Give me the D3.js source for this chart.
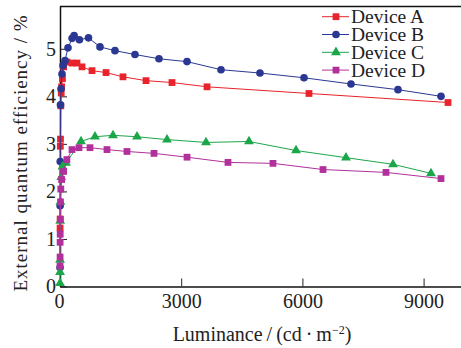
<!DOCTYPE html>
<html>
<head>
<meta charset="utf-8">
<script src="https://cdn.jsdelivr.net/npm/d3@7"></script>
<style>
  body { margin: 0; background: #fff; }
  svg { display: block; }
</style>
</head>
<body>
<svg id="chart"></svg>
<script>
// luminance (cd/m2) vs EQE (%)
const deviceA = [[2, 1.23], [4, 1.42], [8, 2.95], [12, 3.1], [20, 3.8], [30, 4.07], [40, 4.2], [60, 4.37],
  [90, 4.62], [173, 4.72], [297, 4.7], [421, 4.7], [545, 4.62], [792, 4.54], [1139, 4.5], [1559, 4.41],
  [2129, 4.33], [2772, 4.29], [3639, 4.2], [6163, 4.06], [9604, 3.87]];
const deviceB = [[1, 0.4], [3, 1.7], [6, 2.63], [12, 3.82], [25, 4.16], [50, 4.47], [75, 4.65], [124, 4.75],
  [198, 5.02], [300, 5.22], [350, 5.28], [480, 5.19], [705, 5.23], [990, 5.04], [1361, 4.96], [1856, 4.88],
  [2450, 4.79], [3144, 4.73], [3985, 4.56], [4950, 4.49], [6040, 4.39], [7203, 4.26], [8366, 4.14], [9431, 4.0]];
const deviceC = [[0.5, 0.07], [1, 0.3], [2, 0.56], [5, 1.38], [10, 1.78], [30, 2.3], [60, 2.52], [149, 2.6],
  [520, 3.05], [866, 3.15], [1312, 3.18], [1906, 3.15], [2649, 3.09], [3614, 3.03], [4678, 3.05],
  [5842, 2.86], [7079, 2.71], [8243, 2.57], [9183, 2.38]];
const deviceD = [[1, 0.43], [2, 0.62], [3, 0.93], [5, 1.1], [8, 1.41], [12, 1.78], [20, 2.05], [40, 2.25],
  [90, 2.42], [170, 2.67], [297, 2.88], [470, 2.92], [743, 2.92], [1163, 2.88], [1658, 2.84], [2327, 2.8],
  [3144, 2.72], [4158, 2.61], [5272, 2.59], [6510, 2.46], [8069, 2.4], [9431, 2.27]];

const seriesNames = ['Device A', 'Device B', 'Device C', 'Device D'];
const xTicks = [0, 3000, 6000, 9000];
const yTicks = [0, 1, 2, 3, 4, 5];

const width = 461, height = 348;
const margin = {top: 6, left: 60, bottom: 286.5};
const serif = 'Liberation Serif, Times New Roman, serif';

const series = [
  {name: seriesNames[0], data: deviceA, color: '#e8232b', symbol: d3.symbolSquare, size: 46},
  {name: seriesNames[1], data: deviceB, color: '#2b3893', symbol: d3.symbolCircle, size: 46},
  {name: seriesNames[2], data: deviceC, color: '#1ca64a', symbol: d3.symbolTriangle, size: 42},
  {name: seriesNames[3], data: deviceD, color: '#b2309b', symbol: d3.symbolSquare, size: 46}
];

const svg = d3.select('#chart')
  .attr('width', width).attr('height', height)
  .attr('font-family', serif);

const x = d3.scaleLinear().domain([0, 10000]).range([margin.left, 464]);
const y = d3.scaleLinear().domain([0, 5.9]).range([margin.bottom, margin.top]);

// top frame line
svg.append('line')
  .attr('x1', margin.left).attr('x2', width)
  .attr('y1', margin.top + 0.5).attr('y2', margin.top + 0.5)
  .attr('stroke', '#111').attr('stroke-width', 1.5);

// axes with inward ticks
const xAxis = svg.append('g')
  .attr('transform', 'translate(0,' + margin.bottom + ')')
  .call(d3.axisBottom(x).tickValues(xTicks).tickFormat(d3.format('d'))
    .tickSizeInner(-8).tickSizeOuter(0).tickPadding(7));
const yAxis = svg.append('g')
  .attr('transform', 'translate(' + margin.left + ',0)')
  .call(d3.axisLeft(y).tickValues(yTicks).tickFormat(d3.format('d'))
    .tickSizeInner(-7).tickSizeOuter(0).tickPadding(4));

[xAxis, yAxis].forEach(g => {
  g.attr('font-family', serif).attr('font-size', 20);
  g.select('.domain').attr('stroke', '#111').attr('stroke-width', 1.5);
  g.selectAll('.tick line').attr('stroke', '#222');
  g.selectAll('.tick text').attr('fill', '#222');
});
xAxis.selectAll('.tick').filter(d => d === 0).select('line').remove();
xAxis.selectAll('.tick').filter(d => d === 0).select('text').attr('x', -1);

// lines + markers
const line = d3.line().x(d => x(d[0])).y(d => y(d[1]));

series.forEach(s => {
  svg.append('path')
    .datum(s.data)
    .attr('d', line)
    .attr('fill', 'none')
    .attr('stroke', s.color)
    .attr('stroke-width', 1);

  svg.append('g').selectAll('path')
    .data(s.data)
    .enter()
    .append('path')
    .attr('transform', d => 'translate(' + x(d[0]) + ',' + y(d[1]) + ')')
    .attr('d', d3.symbol().type(s.symbol).size(s.size))
    .attr('fill', s.color);
});

// legend
const legend = svg.append('g').attr('transform', 'translate(322,0)');
series.forEach((s, i) => {
  const cy = 16.7 + i * 17.8;
  legend.append('line')
    .attr('x1', 0).attr('x2', 27)
    .attr('y1', cy).attr('y2', cy)
    .attr('stroke', s.color).attr('stroke-width', 1);
  legend.append('path')
    .attr('transform', 'translate(14,' + cy + ')')
    .attr('d', d3.symbol().type(s.symbol).size(s.size))
    .attr('fill', s.color);
  legend.append('text')
    .attr('x', 29)
    .attr('y', cy + 6.5)
    .attr('font-size', 19.5)
    .attr('fill', '#222')
    .text(s.name);
});

// axis titles
const xTitle = svg.append('text')
  .attr('x', 262)
  .attr('y', 341)
  .attr('text-anchor', 'middle')
  .attr('font-size', 20)
  .attr('fill', '#222');
xTitle.append('tspan').text('Luminance\u2009/\u2009(cd\u2009\u00b7\u2009m');
xTitle.append('tspan').attr('dy', -7).attr('font-size', 12).text('\u22122');
xTitle.append('tspan').attr('dy', 7).text(')');

svg.append('text')
  .attr('transform', 'translate(27,153.5) rotate(-90)')
  .attr('text-anchor', 'middle')
  .attr('textLength', 276)
  .attr('lengthAdjust', 'spacing')
  .attr('font-size', 19)
  .attr('fill', '#222')
  .text('External  quantum  efficiency / %');
</script>
</body>
</html>
